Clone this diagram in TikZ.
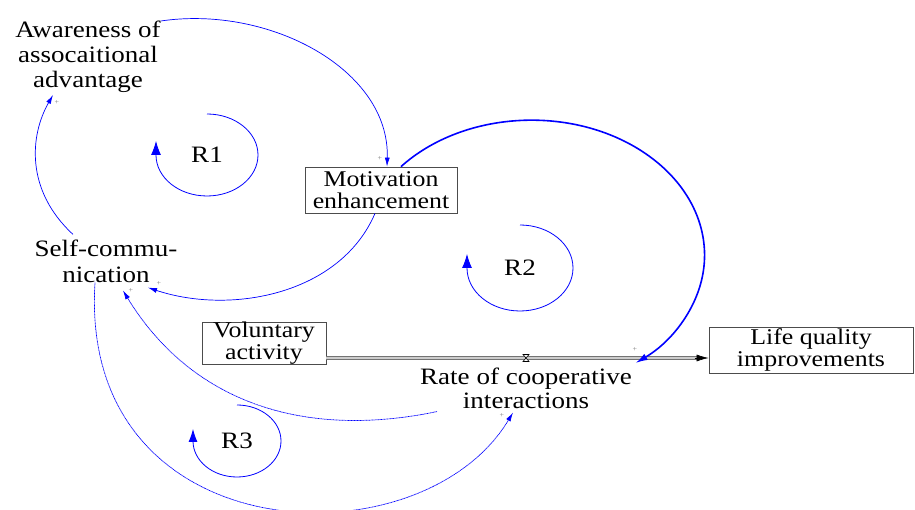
\documentclass[tikz,border=0pt]{standalone}
\usepackage{fontspec}
\setmainfont{Liberation Serif}[FakeStretch=1.15]
\usetikzlibrary{arrows.meta}

\begin{document}
\begin{tikzpicture}[x=1pt,y=1pt,
  lbl/.style={font=\fontsize{23.5}{25}\selectfont, align=center, inner sep=0pt},
  stock/.style={draw=black!70, line width=0.8pt, font=\fontsize{22.5}{21.5}\selectfont,
                align=center, inner sep=0pt},
  link/.style={blue, line width=0.7pt, -{Latex[length=9pt,width=5pt]}},
  fine/.style={link, dash pattern=on 1pt off 0.5pt},
  strong/.style={blue, line width=1.6pt, -{Latex[length=12pt,width=7pt]}},
  loopar/.style={blue, line width=0.8pt, -{Latex[length=14pt,width=10pt]}},
  pol/.style={font=\fontsize{7}{7}\selectfont, text=gray, inner sep=0pt},
]
\useasboundingbox (0,0) rectangle (915,510);

% variables and stocks
\node[lbl] (aw) at (88,453) {Awareness of\\assocaitional\\advantage};
\node[stock, minimum width=152pt, minimum height=46pt] (mot) at (381,320) {Motivation\\enhancement};
\node[lbl, font=\fontsize{23.5}{26}\selectfont] (sc) at (106,249) {Self-commu-\\nication};
\node[stock, minimum width=124pt, minimum height=42pt] (vol) at (264,167) {Voluntary\\activity};
\node[stock, minimum width=204pt, minimum height=46pt] (life) at (811,160) {Life quality\\improvements};
\coordinate (valve) at (526,152);
\node[lbl, font=\fontsize{23.5}{24}\selectfont] (rate) at (526,122) {Rate of cooperative\\interactions};

% loop labels
\node[lbl] (r1) at (207,355) {R1};
\node[lbl] (r2) at (520,242) {R2};
\node[lbl] (r3) at (237,69) {R3};

% flow pipe with valve
\draw[draw=black!55, double=black!20, double distance=1.4pt, line width=0.9pt]
  (vol.east |- valve) -- ([xshift=-10pt]life.west |- valve);
\draw[black, line width=0.6pt, -{Latex[length=12pt,width=7pt]}]
  ([xshift=-14pt]life.west |- valve) -- (life.west |- valve);
\draw[line width=0.6pt, fill=white] ([shift={(-3,3.5)}]valve) -- ++(6,0) -- ++(-6,-7) -- ++(6,0) -- cycle;

% causal links
\draw[link] (aw.north east) .. controls (270,505) and (390,440) .. ([xshift=6pt]mot.north);
\draw[link] ([xshift=-6pt]mot.south) .. controls (340,215) and (230,195) .. ([shift={(42,-5)}]sc.south);
\draw[link] ([shift={(-33,5)}]sc.north) .. controls (25,320) and (30,375) .. ([shift={(-35,-2)}]aw.south);
\draw[strong] ([xshift=20pt]mot.north) arc[start angle=139, end angle=-53, x radius=173, y radius=135];
\draw[fine] ([shift={(17,-3)}]rate.south west) .. controls (300,70) and (190,110) .. ([shift={(17,-8)}]sc.south);
\draw[fine] ([xshift=-11pt]sc.south) .. controls (78,-42) and (420,-57) .. ([shift={(-13,-4)}]rate.south);

% polarity marks
\node[pol] (p1) at (380,351) {+};
\node[pol] (p2) at (159,226) {+};
\node[pol] (p3) at (131,219) {+};
\node[pol] (p4) at (57,407) {+};
\node[pol] (p5) at (635,160) {+};
\node[pol] (p6) at (502,94) {+};

% loop markers
\draw[loopar] ([yshift=41pt]r1.center) arc[start angle=90, end angle=-180, x radius=51, y radius=41] -- ++(0,14);
\draw[loopar] ([yshift=43pt]r2.center) arc[start angle=90, end angle=-180, x radius=53, y radius=43] -- ++(0,14);
\draw[blue, line width=0.8pt, -{Latex[length=13pt,width=9pt]}] ([yshift=36pt]r3.center) arc[start angle=90, end angle=-180, x radius=44, y radius=36] -- ++(0,12);
\end{tikzpicture}
\end{document}
